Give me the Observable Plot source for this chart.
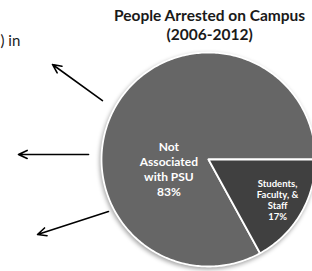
<!DOCTYPE html>
<html><head><meta charset="utf-8">
<script src="https://cdn.jsdelivr.net/npm/d3@7"></script>
<script src="https://cdn.jsdelivr.net/npm/@observablehq/plot@0.6"></script>
<style>
html,body{margin:0;padding:0;background:#fff;}
#chart svg g[aria-label="line"]{filter:drop-shadow(-1px 2px 2px rgba(0,0,0,0.35));}
</style>
</head><body><div id="chart"></div>
<script>
const categories = ["Not Associated with PSU", "Students, Faculty, & Staff"];
const shares = [83, 17];
const sliceColors = ["#666666", "#404040"];
const sliceLabels = ["Not\nAssociated\nwith PSU\n83%", "Students,\nFaculty, &\nStaff\n17%"];
const titleText = "People Arrested on Campus\n(2006-2012)";
const leftText = ") in";

// pie geometry (unit circle, angle clockwise from north)
const total = d3.sum(shares);
const pie = d3.pie().sort(null).value(d => d)
  .startAngle(Math.PI / 2 + 2 * Math.PI * shares[1] / total)
  .endAngle(Math.PI / 2 + 2 * Math.PI * shares[1] / total + 2 * Math.PI)(shares);

const slicePts = [];
pie.forEach((p, i) => {
  slicePts.push({cat: categories[i], x: 0, y: 0});
  const n = Math.max(8, Math.ceil((p.endAngle - p.startAngle) * 60));
  for (let k = 0; k <= n; k++) {
    const a = p.startAngle + (p.endAngle - p.startAngle) * k / n;
    slicePts.push({cat: categories[i], x: Math.sin(a), y: Math.cos(a)});
  }
  slicePts.push({cat: categories[i], x: 0, y: 0});
});

// label anchors (polar: angle deg clockwise from north, radius)
const labelPolar = [[257, 0.38], [120.6, 0.75]];
const labels = labelPolar.map(([a, r], i) => ({
  text: sliceLabels[i],
  x: r * Math.sin(a * Math.PI / 180),
  y: r * Math.cos(a * Math.PI / 180)
}));

const arrows = [
  {x1: -0.991, y1: 0.551, x2: -1.458, y2: 0.888},
  {x1: -1.121, y1: 0.047, x2: -1.776, y2: 0.047},
  {x1: -0.935, y1: -0.486, x2: -1.598, y2: -0.701}
];

const svg = Plot.plot({
  width: 312, height: 271, margin: 0,
  x: {domain: [-208/107, 104/107], axis: null},
  y: {domain: [-112/107, 159/107], axis: null},
  style: {fontFamily: "Lato, 'Open Sans', sans-serif", background: "#fff"},
  marks: [
    Plot.line(slicePts, {x: "x", y: "y", z: "cat", fill: d => d.cat, stroke: "#fff", strokeWidth: 1.8, strokeLinejoin: "round"}),
    Plot.text(labels.slice(0,1), {x: "x", y: "y", text: "text", fill: "#fff", fontWeight: "bold", fontSize: 12, lineHeight: 1.25}),
    Plot.text(labels.slice(1), {x: "x", y: "y", text: "text", fill: "#fff", fontWeight: "bold", fontSize: 9.5, lineHeight: 1.15}),
    Plot.arrow(arrows, {x1: "x1", y1: "y1", x2: "x2", y2: "y2", stroke: "#000", strokeWidth: 1.6, headLength: 9, headAngle: 50}),
    Plot.text([titleText], {x: 0.01, y: 1.266, text: d => d, fontWeight: "bold", fontSize: 15.5, lineHeight: 1.23, fill: "#1a1a1a"}),
    Plot.text([leftText], {x: -1.944, y: 1.103, text: d => d, textAnchor: "start", fontSize: 15, fill: "#1a1a1a"})
  ],
  color: {domain: categories, range: sliceColors}
});
document.getElementById("chart").appendChild(svg);
</script>
</body></html>
